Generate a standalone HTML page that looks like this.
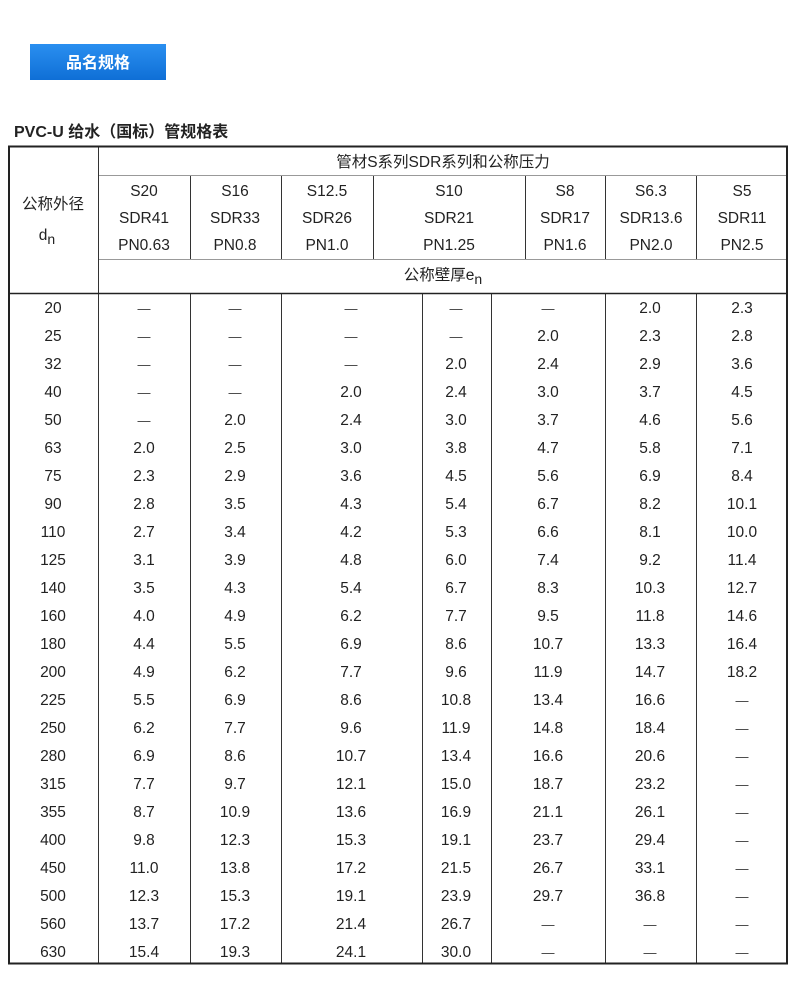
<!DOCTYPE html>
<html><head><meta charset="utf-8"><style>
html,body{margin:0;padding:0;background:#fff;width:800px;height:1000px;overflow:hidden}
svg{display:block}
text{font-family:"Liberation Sans","Noto Sans CJK SC",sans-serif;fill:#222;font-size:15.5px}
.c{text-anchor:middle}
.d{fill:#333;font-size:13px}
</style></head><body>
<svg width="800" height="1000" viewBox="0 0 800 1000" xmlns="http://www.w3.org/2000/svg">
<defs><linearGradient id="g" x1="0" y1="0" x2="0" y2="1"><stop offset="0" stop-color="#2a8ff0"/><stop offset="1" stop-color="#0f6fd6"/></linearGradient></defs>
<rect x="30" y="44" width="136" height="36" fill="url(#g)"/>
<text x="98" y="68" class="c" style="fill:#fff;font-weight:bold;font-size:16px">品名规格</text>
<text x="14" y="137" style="font-weight:bold;font-size:16px;fill:#222">PVC-U 给水（国标）管规格表</text>
<g stroke="#999" stroke-width="1">
<line x1="98" y1="175.5" x2="788" y2="175.5"/>
<line x1="98" y1="259.5" x2="788" y2="259.5"/>
</g>
<g stroke="#333" stroke-width="1">
<line x1="98.5" y1="146" x2="98.5" y2="964"/>
<line x1="190.5" y1="176" x2="190.5" y2="259"/>
<line x1="281.5" y1="176" x2="281.5" y2="259"/>
<line x1="373.5" y1="176" x2="373.5" y2="259"/>
<line x1="525.5" y1="176" x2="525.5" y2="259"/>
<line x1="605.5" y1="176" x2="605.5" y2="259"/>
<line x1="696.5" y1="176" x2="696.5" y2="259"/>
<line x1="190.5" y1="293" x2="190.5" y2="964"/>
<line x1="281.5" y1="293" x2="281.5" y2="964"/>
<line x1="422.5" y1="293" x2="422.5" y2="964"/>
<line x1="491.5" y1="293" x2="491.5" y2="964"/>
<line x1="605.5" y1="293" x2="605.5" y2="964"/>
<line x1="696.5" y1="293" x2="696.5" y2="964"/>
<line x1="9" y1="293.5" x2="788" y2="293.5" stroke="#222" stroke-width="1.5"/>
</g>
<rect x="9" y="146.5" width="778" height="817" fill="none" stroke="#222" stroke-width="2"/>
<text x="443" y="167" class="c">管材S系列SDR系列和公称压力</text>
<text x="53" y="209" class="c">公称外径</text>
<text x="47" y="240" class="c">d<tspan dy="4" font-size="14">n</tspan></text>
<g class="c">
<text x="144" y="196" class="c">S20</text><text x="144" y="223" class="c">SDR41</text><text x="144" y="250" class="c">PN0.63</text>
<text x="235" y="196" class="c">S16</text><text x="235" y="223" class="c">SDR33</text><text x="235" y="250" class="c">PN0.8</text>
<text x="327" y="196" class="c">S12.5</text><text x="327" y="223" class="c">SDR26</text><text x="327" y="250" class="c">PN1.0</text>
<text x="449" y="196" class="c">S10</text><text x="449" y="223" class="c">SDR21</text><text x="449" y="250" class="c">PN1.25</text>
<text x="565" y="196" class="c">S8</text><text x="565" y="223" class="c">SDR17</text><text x="565" y="250" class="c">PN1.6</text>
<text x="651" y="196" class="c">S6.3</text><text x="651" y="223" class="c">SDR13.6</text><text x="651" y="250" class="c">PN2.0</text>
<text x="742" y="196" class="c">S5</text><text x="742" y="223" class="c">SDR11</text><text x="742" y="250" class="c">PN2.5</text>
</g>
<text x="443" y="280" class="c">公称壁厚e<tspan dy="4" font-size="14">n</tspan></text>
<g>
<text x="53" y="313" class="c">20</text><text x="144" y="313" class="c d">—</text><text x="235" y="313" class="c d">—</text><text x="351" y="313" class="c d">—</text><text x="456" y="313" class="c d">—</text><text x="548" y="313" class="c d">—</text><text x="650" y="313" class="c">2.0</text><text x="742" y="313" class="c">2.3</text>
<text x="53" y="341" class="c">25</text><text x="144" y="341" class="c d">—</text><text x="235" y="341" class="c d">—</text><text x="351" y="341" class="c d">—</text><text x="456" y="341" class="c d">—</text><text x="548" y="341" class="c">2.0</text><text x="650" y="341" class="c">2.3</text><text x="742" y="341" class="c">2.8</text>
<text x="53" y="369" class="c">32</text><text x="144" y="369" class="c d">—</text><text x="235" y="369" class="c d">—</text><text x="351" y="369" class="c d">—</text><text x="456" y="369" class="c">2.0</text><text x="548" y="369" class="c">2.4</text><text x="650" y="369" class="c">2.9</text><text x="742" y="369" class="c">3.6</text>
<text x="53" y="397" class="c">40</text><text x="144" y="397" class="c d">—</text><text x="235" y="397" class="c d">—</text><text x="351" y="397" class="c">2.0</text><text x="456" y="397" class="c">2.4</text><text x="548" y="397" class="c">3.0</text><text x="650" y="397" class="c">3.7</text><text x="742" y="397" class="c">4.5</text>
<text x="53" y="425" class="c">50</text><text x="144" y="425" class="c d">—</text><text x="235" y="425" class="c">2.0</text><text x="351" y="425" class="c">2.4</text><text x="456" y="425" class="c">3.0</text><text x="548" y="425" class="c">3.7</text><text x="650" y="425" class="c">4.6</text><text x="742" y="425" class="c">5.6</text>
<text x="53" y="453" class="c">63</text><text x="144" y="453" class="c">2.0</text><text x="235" y="453" class="c">2.5</text><text x="351" y="453" class="c">3.0</text><text x="456" y="453" class="c">3.8</text><text x="548" y="453" class="c">4.7</text><text x="650" y="453" class="c">5.8</text><text x="742" y="453" class="c">7.1</text>
<text x="53" y="481" class="c">75</text><text x="144" y="481" class="c">2.3</text><text x="235" y="481" class="c">2.9</text><text x="351" y="481" class="c">3.6</text><text x="456" y="481" class="c">4.5</text><text x="548" y="481" class="c">5.6</text><text x="650" y="481" class="c">6.9</text><text x="742" y="481" class="c">8.4</text>
<text x="53" y="509" class="c">90</text><text x="144" y="509" class="c">2.8</text><text x="235" y="509" class="c">3.5</text><text x="351" y="509" class="c">4.3</text><text x="456" y="509" class="c">5.4</text><text x="548" y="509" class="c">6.7</text><text x="650" y="509" class="c">8.2</text><text x="742" y="509" class="c">10.1</text>
<text x="53" y="537" class="c">110</text><text x="144" y="537" class="c">2.7</text><text x="235" y="537" class="c">3.4</text><text x="351" y="537" class="c">4.2</text><text x="456" y="537" class="c">5.3</text><text x="548" y="537" class="c">6.6</text><text x="650" y="537" class="c">8.1</text><text x="742" y="537" class="c">10.0</text>
<text x="53" y="565" class="c">125</text><text x="144" y="565" class="c">3.1</text><text x="235" y="565" class="c">3.9</text><text x="351" y="565" class="c">4.8</text><text x="456" y="565" class="c">6.0</text><text x="548" y="565" class="c">7.4</text><text x="650" y="565" class="c">9.2</text><text x="742" y="565" class="c">11.4</text>
<text x="53" y="593" class="c">140</text><text x="144" y="593" class="c">3.5</text><text x="235" y="593" class="c">4.3</text><text x="351" y="593" class="c">5.4</text><text x="456" y="593" class="c">6.7</text><text x="548" y="593" class="c">8.3</text><text x="650" y="593" class="c">10.3</text><text x="742" y="593" class="c">12.7</text>
<text x="53" y="621" class="c">160</text><text x="144" y="621" class="c">4.0</text><text x="235" y="621" class="c">4.9</text><text x="351" y="621" class="c">6.2</text><text x="456" y="621" class="c">7.7</text><text x="548" y="621" class="c">9.5</text><text x="650" y="621" class="c">11.8</text><text x="742" y="621" class="c">14.6</text>
<text x="53" y="649" class="c">180</text><text x="144" y="649" class="c">4.4</text><text x="235" y="649" class="c">5.5</text><text x="351" y="649" class="c">6.9</text><text x="456" y="649" class="c">8.6</text><text x="548" y="649" class="c">10.7</text><text x="650" y="649" class="c">13.3</text><text x="742" y="649" class="c">16.4</text>
<text x="53" y="677" class="c">200</text><text x="144" y="677" class="c">4.9</text><text x="235" y="677" class="c">6.2</text><text x="351" y="677" class="c">7.7</text><text x="456" y="677" class="c">9.6</text><text x="548" y="677" class="c">11.9</text><text x="650" y="677" class="c">14.7</text><text x="742" y="677" class="c">18.2</text>
<text x="53" y="705" class="c">225</text><text x="144" y="705" class="c">5.5</text><text x="235" y="705" class="c">6.9</text><text x="351" y="705" class="c">8.6</text><text x="456" y="705" class="c">10.8</text><text x="548" y="705" class="c">13.4</text><text x="650" y="705" class="c">16.6</text><text x="742" y="705" class="c d">—</text>
<text x="53" y="733" class="c">250</text><text x="144" y="733" class="c">6.2</text><text x="235" y="733" class="c">7.7</text><text x="351" y="733" class="c">9.6</text><text x="456" y="733" class="c">11.9</text><text x="548" y="733" class="c">14.8</text><text x="650" y="733" class="c">18.4</text><text x="742" y="733" class="c d">—</text>
<text x="53" y="761" class="c">280</text><text x="144" y="761" class="c">6.9</text><text x="235" y="761" class="c">8.6</text><text x="351" y="761" class="c">10.7</text><text x="456" y="761" class="c">13.4</text><text x="548" y="761" class="c">16.6</text><text x="650" y="761" class="c">20.6</text><text x="742" y="761" class="c d">—</text>
<text x="53" y="789" class="c">315</text><text x="144" y="789" class="c">7.7</text><text x="235" y="789" class="c">9.7</text><text x="351" y="789" class="c">12.1</text><text x="456" y="789" class="c">15.0</text><text x="548" y="789" class="c">18.7</text><text x="650" y="789" class="c">23.2</text><text x="742" y="789" class="c d">—</text>
<text x="53" y="817" class="c">355</text><text x="144" y="817" class="c">8.7</text><text x="235" y="817" class="c">10.9</text><text x="351" y="817" class="c">13.6</text><text x="456" y="817" class="c">16.9</text><text x="548" y="817" class="c">21.1</text><text x="650" y="817" class="c">26.1</text><text x="742" y="817" class="c d">—</text>
<text x="53" y="845" class="c">400</text><text x="144" y="845" class="c">9.8</text><text x="235" y="845" class="c">12.3</text><text x="351" y="845" class="c">15.3</text><text x="456" y="845" class="c">19.1</text><text x="548" y="845" class="c">23.7</text><text x="650" y="845" class="c">29.4</text><text x="742" y="845" class="c d">—</text>
<text x="53" y="873" class="c">450</text><text x="144" y="873" class="c">11.0</text><text x="235" y="873" class="c">13.8</text><text x="351" y="873" class="c">17.2</text><text x="456" y="873" class="c">21.5</text><text x="548" y="873" class="c">26.7</text><text x="650" y="873" class="c">33.1</text><text x="742" y="873" class="c d">—</text>
<text x="53" y="901" class="c">500</text><text x="144" y="901" class="c">12.3</text><text x="235" y="901" class="c">15.3</text><text x="351" y="901" class="c">19.1</text><text x="456" y="901" class="c">23.9</text><text x="548" y="901" class="c">29.7</text><text x="650" y="901" class="c">36.8</text><text x="742" y="901" class="c d">—</text>
<text x="53" y="929" class="c">560</text><text x="144" y="929" class="c">13.7</text><text x="235" y="929" class="c">17.2</text><text x="351" y="929" class="c">21.4</text><text x="456" y="929" class="c">26.7</text><text x="548" y="929" class="c d">—</text><text x="650" y="929" class="c d">—</text><text x="742" y="929" class="c d">—</text>
<text x="53" y="957" class="c">630</text><text x="144" y="957" class="c">15.4</text><text x="235" y="957" class="c">19.3</text><text x="351" y="957" class="c">24.1</text><text x="456" y="957" class="c">30.0</text><text x="548" y="957" class="c d">—</text><text x="650" y="957" class="c d">—</text><text x="742" y="957" class="c d">—</text>
</g>
</svg>
</body></html>
